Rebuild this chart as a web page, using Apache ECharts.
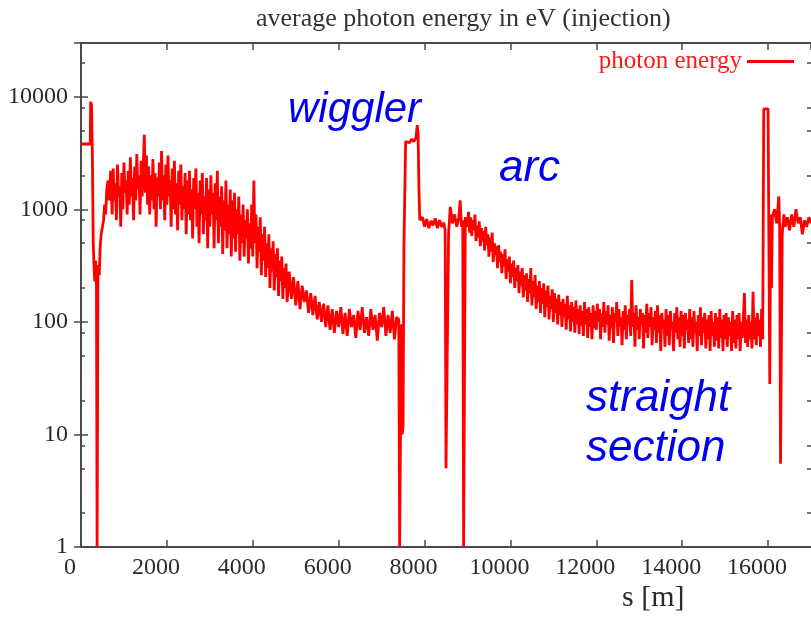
<!DOCTYPE html>
<html><head><meta charset="utf-8">
<script src="https://cdn.jsdelivr.net/npm/echarts@6/dist/echarts.min.js"></script>
<style>html,body{margin:0;padding:0;background:#fff}#c{width:811px;height:620px}</style>
</head><body><div id="c"></div>
<script>
const titleText = 'average photon energy in eV (injection)';
const seriesName = 'photon energy';
const xAxisName = 's [m]';
const xTickValues = [0, 2000, 4000, 6000, 8000, 10000, 12000, 14000, 16000];
const yTickValues = [1, 10, 100, 1000, 10000];
const yMinorTickValues = [2, 5, 8, 20, 50, 80, 200, 500, 800, 2000, 5000, 8000, 20000];
const annotations = ['wiggler', 'arc', 'straight', 'section'];

// s [m] and photon energy [eV], region by region
const injectionS = [0, 150, 215, 225, 245, 265, 285, 300, 320, 340, 360, 375, 385, 395, 410, 425, 445, 470, 500, 525, 550, 575, 600, 630, 660, 690];
const injectionE = [3800, 3800, 3800, 9000, 8500, 3000, 500, 330, 230, 350, 200, 1, 1, 250, 320, 260, 450, 600, 700, 800, 1100, 900, 1500, 1800, 1200, 2200];

const arcAS = [700, 725, 750, 775, 800, 825, 850, 875, 900, 925, 950, 975, 1000, 1025, 1050, 1075, 1100, 1125, 1150, 1175, 1200, 1225, 1250, 1275, 1300, 1325, 1350, 1375, 1400, 1425, 1450, 1475, 1500];
const arcAE = [1900, 900, 2300, 1200, 1700, 800, 2500, 1300, 1600, 700, 2100, 1000, 2600, 1400, 1800, 900, 2200, 1100, 2900, 1300, 1900, 800, 2400, 1200, 3100, 1500, 2000, 900, 2700, 1300, 2500, 4600, 1400];

const arcBS = [1525, 1550, 1575, 1600, 1625, 1650, 1675, 1700, 1725, 1750, 1775, 1800, 1825, 1850, 1875, 1900, 1925, 1950, 1975, 2000, 2025, 2050, 2075, 2100, 2125, 2150, 2175, 2200, 2225, 2250, 2275, 2300, 2325, 2350, 2375, 2400, 2425, 2450, 2475, 2500];
const arcBE = [3000, 1100, 2400, 900, 2000, 1200, 2800, 1000, 2100, 700, 1900, 1300, 2600, 1000, 3300, 1200, 2000, 800, 2500, 1100, 3000, 1300, 1800, 700, 2300, 1000, 2700, 900, 1700, 650, 2200, 1100, 2500, 800, 1600, 1000, 2100, 600, 1800, 900];

const arcCS = [2525, 2550, 2575, 2600, 2625, 2650, 2675, 2700, 2725, 2750, 2775, 2800, 2825, 2850, 2875, 2900, 2925, 2950, 2975, 3000, 3025, 3050, 3075, 3100, 3125, 3150, 3175, 3200, 3225, 3250, 3275, 3300, 3325, 3350, 3375, 3400, 3425, 3450, 3475, 3500];
const arcCE = [2200, 800, 1500, 550, 1900, 1000, 2300, 700, 1400, 500, 1800, 900, 2100, 600, 1300, 800, 1900, 450, 1500, 700, 2000, 900, 1400, 450, 1700, 800, 2200, 500, 1300, 700, 1600, 400, 1200, 650, 1800, 450, 1100, 600, 1500, 380];

const arcDS = [3525, 3550, 3575, 3600, 3625, 3650, 3675, 3700, 3725, 3750, 3775, 3800, 3825, 3850, 3875, 3900, 3925, 3950, 3975, 4000, 4025, 4050, 4075, 4100, 4125, 4150, 4175, 4200, 4225, 4250, 4275, 4300, 4325, 4350, 4375, 4400, 4425, 4450, 4475, 4500, 4525, 4550, 4575, 4600, 4625, 4650, 4675, 4700, 4725, 4750, 4775, 4800];
const arcDE = [1200, 550, 1400, 420, 1000, 600, 1300, 350, 900, 500, 1100, 380, 800, 550, 1000, 330, 750, 450, 1100, 380, 1800, 500, 900, 300, 700, 420, 850, 260, 600, 350, 700, 250, 500, 300, 600, 200, 450, 280, 520, 190, 400, 250, 450, 170, 350, 230, 380, 160, 300, 200, 330, 150];

const slopeS = [4850, 4900, 4950, 5000, 5050, 5100, 5150, 5200, 5250, 5300, 5350, 5400, 5450, 5500, 5550, 5600, 5650, 5700, 5750, 5800, 5850, 5900, 5950, 6000, 6050, 6100, 6150, 6200, 6250, 6300, 6350, 6400, 6450, 6500, 6550, 6600, 6650, 6700, 6750, 6800, 6850, 6900, 6950, 7000, 7050, 7100, 7150, 7200, 7250, 7300, 7350, 7400];
const slopeE = [280, 160, 250, 140, 230, 130, 210, 150, 190, 120, 180, 115, 170, 105, 150, 100, 145, 90, 140, 85, 130, 80, 125, 90, 135, 78, 120, 75, 130, 90, 115, 72, 125, 85, 135, 80, 110, 75, 130, 85, 115, 68, 120, 90, 135, 75, 115, 80, 125, 70, 110, 105];

const wigglerS = [7420, 7440, 7460, 7480, 7500, 7520, 7560, 7600, 7650, 7700, 7750, 7800, 7830, 7850, 7870, 7890];
const wigglerE = [1, 1, 95, 10, 12, 450, 4000, 4100, 3900, 4200, 4000, 4300, 5600, 4800, 1500, 800];

const arcStartS = [7950, 8000, 8050, 8100, 8150, 8200, 8250, 8300, 8350, 8400, 8450, 8480, 8500, 8520, 8560, 8600, 8650, 8700, 8750, 8800, 8830, 8860, 8890, 8910, 8930, 8950];
const arcStartE = [850, 700, 820, 680, 790, 720, 830, 680, 800, 700, 760, 650, 5, 5, 600, 1050, 750, 900, 700, 850, 1200, 700, 800, 1, 1, 850];

const arcFallS = [9000, 9025, 9050, 9075, 9100, 9125, 9150, 9175, 9200, 9225, 9250, 9275, 9300, 9325, 9350, 9375, 9400, 9425, 9450, 9475, 9500, 9525, 9550, 9575, 9600, 9625, 9650, 9675, 9700, 9725, 9750, 9775, 9800, 9825, 9850, 9875, 9900, 9925, 9950, 9975, 10000, 10025, 10050, 10075, 10100, 10125, 10150, 10175, 10200, 10225, 10250, 10275, 10300, 10325, 10350, 10375, 10400, 10425, 10450, 10475, 10500, 10525, 10550, 10575, 10600, 10625, 10650, 10675, 10700, 10725, 10750, 10775, 10800, 10825, 10850, 10875, 10900, 10925, 10950, 10975, 11000, 11025, 11050, 11075, 11100, 11125, 11150, 11175, 11200, 11225, 11250, 11275, 11300, 11325, 11350, 11375, 11400, 11425, 11450, 11475, 11500, 11525, 11550, 11575, 11600, 11625, 11650, 11675, 11700, 11725, 11750, 11775, 11800, 11825, 11850, 11875, 11900, 11925, 11950, 11975];
const arcFallE = [700, 950, 620, 850, 580, 800, 650, 900, 520, 720, 560, 780, 470, 680, 520, 640, 430, 700, 480, 600, 380, 560, 420, 620, 340, 500, 390, 470, 300, 480, 340, 420, 270, 400, 310, 440, 240, 360, 280, 380, 220, 330, 250, 350, 200, 300, 230, 320, 180, 280, 210, 300, 165, 260, 190, 270, 150, 240, 180, 300, 140, 230, 165, 260, 130, 210, 150, 230, 120, 200, 145, 220, 110, 190, 135, 210, 105, 170, 130, 195, 100, 180, 120, 160, 95, 175, 115, 150, 90, 160, 110, 145, 85, 170, 105, 140, 82, 150, 100, 135, 80, 155, 95, 130, 78, 140, 92, 125, 75, 150, 95, 130, 72, 135, 90, 120, 70, 140, 88, 125];

const straightS = [12000, 12025, 12050, 12075, 12100, 12125, 12150, 12175, 12200, 12225, 12250, 12275, 12300, 12325, 12350, 12375, 12400, 12425, 12450, 12475, 12500, 12525, 12550, 12575, 12600, 12625, 12650, 12675, 12700, 12725, 12750, 12775, 12800, 12825, 12850, 12875, 12900, 12925, 12950, 12975, 13000, 13025, 13050, 13075, 13100, 13125, 13150, 13175, 13200, 13225, 13250, 13275, 13300, 13325, 13350, 13375, 13400, 13425, 13450, 13475, 13500, 13525, 13550, 13575, 13600, 13625, 13650, 13675, 13700, 13725, 13750, 13775, 13800, 13825, 13850, 13875, 13900, 13925, 13950, 13975, 14000, 14025, 14050, 14075, 14100, 14125, 14150, 14175, 14200, 14225, 14250, 14275, 14300, 14325, 14350, 14375, 14400, 14425, 14450, 14475, 14500, 14525, 14550, 14575, 14600, 14625, 14650, 14675, 14700, 14725, 14750, 14775, 14800, 14825, 14850, 14875, 14900, 14925, 14950, 14975, 15000, 15025, 15050, 15075, 15100, 15125, 15150, 15175, 15200, 15225, 15250, 15275, 15300, 15325, 15350, 15375, 15400, 15425, 15450, 15475, 15500, 15525, 15550, 15575, 15600, 15625, 15650, 15675, 15700, 15725, 15750, 15775, 15800, 15825, 15850, 15875];
const straightE = [85, 145, 100, 130, 70, 120, 90, 150, 80, 125, 95, 140, 68, 115, 88, 135, 65, 120, 100, 150, 75, 130, 90, 110, 62, 125, 85, 140, 70, 115, 95, 130, 75, 235, 90, 120, 60, 140, 85, 110, 70, 130, 95, 120, 58, 115, 80, 145, 72, 120, 90, 135, 62, 110, 85, 125, 65, 140, 80, 115, 55, 120, 90, 105, 60, 130, 75, 115, 62, 125, 85, 100, 55, 120, 80, 135, 70, 110, 60, 125, 75, 115, 58, 120, 85, 105, 65, 130, 70, 110, 60, 125, 80, 100, 55, 115, 75, 135, 62, 110, 80, 120, 58, 105, 70, 115, 55, 125, 75, 100, 60, 120, 68, 110, 58, 130, 72, 105, 55, 115, 70, 120, 60, 110, 75, 100, 55, 125, 65, 105, 58, 115, 70, 120, 55, 100, 72, 110, 180, 65, 105, 60, 115, 70, 100, 58, 185, 70, 110, 62, 120, 75, 105, 60, 130, 70];

const injection2S = [15900, 16000, 16020, 16040, 16060, 16080, 16100, 16150, 16200, 16250, 16270, 16290, 16310, 16330, 16370, 16400, 16450, 16500, 16550, 16600, 16650, 16700, 16750, 16800, 16850, 16900, 16950, 17000];
const injection2E = [7800, 7800, 7800, 28, 900, 200, 850, 1000, 750, 1300, 700, 5.5, 5.5, 600, 900, 700, 850, 650, 900, 700, 1000, 750, 850, 600, 800, 700, 850, 750];

const segmentsS = [injectionS, arcAS, arcBS, arcCS, arcDS, slopeS, wigglerS, arcStartS, arcFallS, straightS, injection2S];
const segmentsE = [injectionE, arcAE, arcBE, arcCE, arcDE, slopeE, wigglerE, arcStartE, arcFallE, straightE, injection2E];
const seriesData = [];
segmentsS.forEach((sArr, k) => {
  const eArr = segmentsE[k];
  const n = Math.min(sArr.length, eArr.length);
  for (let i = 0; i < n; i++) seriesData.push([sArr[i], eArr[i]]);
});

const serif = '"Liberation Serif", "Times New Roman", serif';
const sans = '"Liberation Sans", Arial, sans-serif';
const axisColor = '#4a4a4a';
const yMaxValue = 30000;

const chart = echarts.init(document.getElementById('c'));
const majorY = (pos) => ({
  type: 'log', logBase: 10, min: 1, max: yMaxValue, position: pos,
  axisLine: { show: true, lineStyle: { color: axisColor, width: 2 } },
  axisTick: { show: true, inside: true, length: 7, lineStyle: { color: axisColor, width: 1.5 } },
  axisLabel: pos === 'left' ? {
    show: true, showMaxLabel: false, margin: 13, color: '#2a2a2a',
    fontFamily: serif, fontSize: 24, formatter: v => String(Math.round(v))
  } : { show: false },
  splitLine: { show: false }, minorTick: { show: false }
});
const minorY = (pos) => ({
  type: 'value', min: 0, max: Math.log10(yMaxValue), position: pos,
  axisLine: { show: false },
  axisTick: { show: true, inside: true, length: 4, customValues: yMinorTickValues.map(v => Math.log10(v)), lineStyle: { color: axisColor, width: 1.5 } },
  axisLabel: { show: false }, splitLine: { show: false }
});
const xAx = (pos) => ({
  type: 'value', min: 0, max: 17000, interval: 2000, position: pos,
  axisLine: { show: true, onZero: false, lineStyle: { color: axisColor, width: 2 } },
  axisTick: { show: true, inside: true, length: 7, lineStyle: { color: axisColor, width: 1.5 } },
  axisLabel: pos === 'bottom' ? {
    show: true, showMaxLabel: false, margin: 9, color: '#2a2a2a',
    fontFamily: serif, fontSize: 24, padding: [0, 22, 0, 0],
    formatter: v => String(v)
  } : { show: false },
  splitLine: { show: false }
});

chart.setOption({
  animation: false,
  backgroundColor: '#ffffff',
  title: {
    text: titleText, left: 251, top: 1,
    textStyle: { fontFamily: serif, fontSize: 26, fontWeight: 'normal', color: '#333' }
  },
  legend: {
    data: [{ name: seriesName, icon: 'rect' }],
    right: 12, top: 44, align: 'right',
    itemWidth: 47, itemHeight: 3,
    textStyle: { fontFamily: serif, fontSize: 25, color: '#ff1a1a' }
  },
  grid: { left: 81, right: -2, top: 43, bottom: 73, containLabel: false },
  xAxis: [xAx('bottom'), xAx('top')],
  yAxis: [majorY('left'), majorY('right'), minorY('left'), minorY('right')],
  series: [{
    name: seriesName, type: 'line', xAxisIndex: 0, yAxisIndex: 0,
    data: seriesData, showSymbol: false, symbol: 'none',
    lineStyle: { color: '#ff0000', width: 2.8 }, itemStyle: { color: '#ff0000' }
  }],
  graphic: [
    { type: 'text', left: 288, top: 89, style: { text: annotations[0], font: 'italic 42px ' + sans, fill: '#0000ee' } },
    { type: 'text', left: 499, top: 147, style: { text: annotations[1], font: 'italic 44px ' + sans, fill: '#0000ee' } },
    { type: 'text', left: 586, top: 377, style: { text: annotations[2], font: 'italic 44px ' + sans, fill: '#0000ee' } },
    { type: 'text', left: 586, top: 427, style: { text: annotations[3], font: 'italic 44px ' + sans, fill: '#0000ee' } },
    { type: 'text', left: 622, top: 583, style: { text: xAxisName, font: '30px ' + serif, fill: '#2a2a2a' } }
  ]
});
</script></body></html>
